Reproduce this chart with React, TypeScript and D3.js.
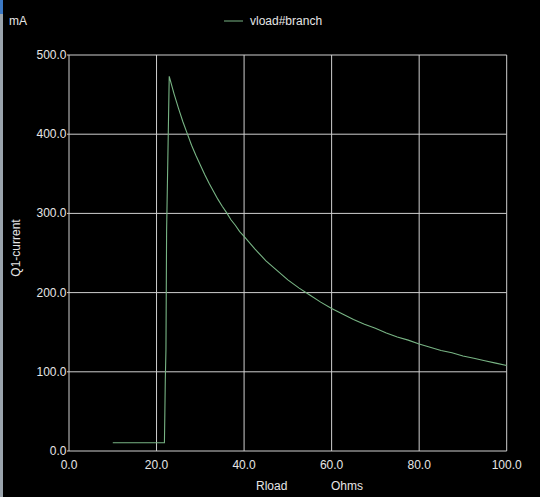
import React from "react";
import * as d3 from "d3";

const rload = [10, 21.8, 21.9, 22.0, 22.15, 22.3, 22.55, 22.9, 24, 25, 26, 27, 28, 29, 30, 31, 32, 33, 34, 35, 36, 37, 38, 39, 40, 42.5, 45, 47.5, 50, 52.5, 55, 57.5, 60, 62.5, 65, 67.5, 70, 72.5, 75, 77.5, 80, 82.5, 85, 87.5, 90, 92.5, 95, 97.5, 100];
const current = [10.5, 10.5, 48, 90, 128, 279, 359, 473, 451, 433, 416, 401, 386, 373, 361, 349, 338, 328, 318, 309, 301, 292, 285, 277, 271, 255, 240, 228, 216, 206, 197, 188, 180, 173, 166, 160, 155, 149, 144, 140, 135, 131, 127, 124, 120, 117, 114, 111, 108];
const xTicks = [0, 20, 40, 60, 80, 100];
const yTicks = [0, 100, 200, 300, 400, 500];
const seriesName = "vload#branch";

const W = 540, H = 497;
const L = 69, R = 506.7, T = 55, B = 451;
const font = "'Liberation Sans', Arial, sans-serif";
const textColor = "#e6e6e6";
const gridColor = "#cfcfcf";
const lineColor = "#78b484";

export default function App() {
  const x = d3.scaleLinear().domain([0, 100]).range([L, R]);
  const y = d3.scaleLinear().domain([0, 500]).range([B, T]);
  const pts: [number, number][] = rload.map((r, i) => [r, current[i]]);
  const line = d3.line<[number, number]>().x(d => x(d[0])).y(d => y(d[1]));
  return (
    <div style={{ position: "fixed", left: 0, top: 0 }}>
      <svg width={W} height={H} style={{ display: "block", background: "#000" }}>
        <rect x={0} y={0} width={W} height={H} fill="#000" />
        <rect x={0} y={0} width={3} height={H} fill="#9aa4ad" />
        <rect x={0} y={0} width={3} height={14} fill="#3b78c4" />
        {xTicks.map(t => (
          <line key={"gx" + t} x1={x(t)} x2={x(t)} y1={T} y2={B} stroke={gridColor} strokeWidth={1} />
        ))}
        {yTicks.map(t => (
          <line key={"gy" + t} x1={L - 2} x2={R} y1={y(t)} y2={y(t)} stroke={gridColor} strokeWidth={1} />
        ))}
        {yTicks.map(t => (
          <text key={"ly" + t} x={L - 2.5} y={y(t) + 4} textAnchor="end" fill={textColor} fontFamily={font} fontSize={12}>
            {t.toFixed(1)}
          </text>
        ))}
        {xTicks.map(t => (
          <text key={"lx" + t} x={x(t)} y={469} textAnchor="middle" fill={textColor} fontFamily={font} fontSize={12}>
            {t.toFixed(1)}
          </text>
        ))}
        <path d={line(pts) ?? ""} fill="none" stroke={lineColor} strokeWidth={1.1} />
        <text x={9} y={25} fill={textColor} fontFamily={font} fontSize={12}>mA</text>
        <text transform={`translate(20,248) rotate(-90)`} textAnchor="middle" fill={textColor} fontFamily={font} fontSize={12}>Q1-current</text>
        <text x={256} y={490} fill={textColor} fontFamily={font} fontSize={12}>Rload</text>
        <text x={331} y={490} fill={textColor} fontFamily={font} fontSize={12}>Ohms</text>
        <line x1={224} x2={243} y1={21} y2={21} stroke={lineColor} strokeWidth={1} />
        <text x={250} y={25} fill={textColor} fontFamily={font} fontSize={12}>{seriesName}</text>
      </svg>
    </div>
  );
}
